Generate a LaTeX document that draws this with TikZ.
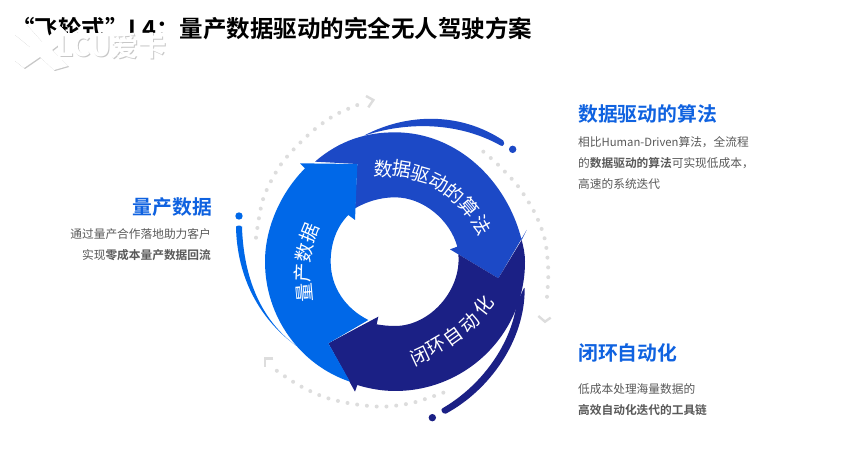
\documentclass[tikz,border=0pt]{standalone}
\usepackage{fontspec}
\setmainfont{Noto Sans CJK SC}
\newfontfamily\cjkb{Noto Sans CJK SC Bold}
\definecolor{cblue}{HTML}{0068E8}
\definecolor{cdark}{HTML}{1C49C6}
\definecolor{cnavy}{HTML}{1B2085}
\definecolor{cdot}{HTML}{DDDDDD}
\definecolor{ctxt}{HTML}{595959}
\definecolor{chead}{HTML}{0F62E0}
\tikzset{
 dots/.style={cdot,line width=4pt,line cap=round,dash pattern=on 0pt off 9.8pt},
 chev/.style={cdot,line width=2.4pt},
 ringtext/.style={text=white,font=\fontsize{19}{19}\selectfont,inner sep=0pt},
 headtext/.style={text=chead,font=\cjkb\fontsize{19.8}{20}\selectfont,inner sep=0pt},
 body/.style={text=ctxt,font=\fontsize{11.7}{20}\selectfont,inner sep=0pt},
 wmark/.style={inner sep=0pt,font=\cjkb\fontsize{28}{28}\selectfont},
}
\begin{document}
\begin{tikzpicture}[x=1pt,y=-1pt]
\useasboundingbox (0,0) rectangle (846,460);
\fill[white] (0,0) rectangle (846,460);
% title
\node[anchor=west,inner sep=0pt,font=\cjkb\fontsize{23.5}{24}\selectfont] (title) at (11,29) {“飞轮式”L4：量产数据驱动的完全无人驾驶方案};
% watermark
\fill[black!22] (15,35) -- (27,25) -- (43,43) -- (61,27) -- (71,37) -- (53,51) -- (69,67) -- (55,71) -- (41,58) -- (25,69) -- (15,61) -- (31,48) -- cycle;
\fill[white] (14,34) -- (26,24) -- (42,42) -- (60,26) -- (70,36) -- (52,50) -- (68,66) -- (54,70) -- (40,57) -- (24,68) -- (14,60) -- (30,47) -- cycle;
\fill[white] (58,33) rectangle (173,60);
\node[anchor=west,wmark,text=black!22] (wms) at (58,47) {LCU\hspace{-1pt}爱卡};
\node[anchor=west,wmark,text=white] (wm) at (57,46) {LCU\hspace{-1pt}爱卡};
\begin{scope}[shift={(220,90)},x=.33333pt,y={(0pt,-.33333pt)}]
% dotted arcs
\draw[dots] plot[smooth] coordinates {(108,443)(130,325)(185,220)(270,130)(345,75)(425,40)};
\draw[chev] (438,18)--(460,30)--(445,52);
\draw[dots] plot[smooth] coordinates {(790,185)(835,225)(895,290)(945,370)(975,450)(985,545)(980,632)};
\draw[chev] (955,678)--(975,695)--(992,683);
\draw[dots] plot[smooth] coordinates {(670,908)(580,938)(490,950)(400,942)(315,922)(235,885)(160,835)};
\draw[chev] (160,805)--(135,805)--(135,832);
% ring arrows
\fill[cdark] (285,215) .. controls (360,150) and (440,127) .. (525,127) .. controls (710,127) and (860,270) .. (905,450) -- (920,420) -- (835,565) -- (690,478) -- (712,470) .. controls (690,390) and (610,322) .. (525,322) .. controls (480,322) and (440,335) .. (405,355) -- (412,222) -- cycle;
\fill[cnavy] (475,680) -- (325,760) -- (405,905) -- (412,885) .. controls (450,897) and (490,903) .. (525,903) .. controls (740,903) and (915,730) .. (915,515) .. controls (915,490) and (910,470) .. (905,450) -- (835,565) -- (715,493) .. controls (725,600) and (630,708) .. (525,708) .. controls (505,708) and (488,706) .. (470,703) -- cycle;
\fill[cblue] (240,220) -- (412,222) -- (405,390) -- (385,375) .. controls (350,410) and (332,460) .. (332,515) .. controls (332,590) and (375,655) .. (445,690) -- (325,760) -- (390,875) .. controls (240,825) and (135,680) .. (135,515) .. controls (135,410) and (185,305) .. (255,235) -- cycle;
% swooshes
\fill[cblue,rounded corners=2pt] (48,415) .. controls (55,580) and (130,695) .. (232,770) .. controls (145,705) and (75,600) .. (66,415) -- (66,407) -- (48,407) -- cycle;
\fill[cblue] (57,378) circle (3.7pt);
\fill[cdark,rounded corners=2pt] (855,155) .. controls (720,65) and (560,70) .. (430,138) .. controls (560,95) and (715,95) .. (848,170) -- cycle;
\fill[cdark] (878,178) circle (3.7pt);
\fill[cnavy,rounded corners=2pt] (914,590) .. controls (915,750) and (810,900) .. (672,974) -- (662,958) .. controls (780,890) and (870,770) .. (890,640) -- cycle;
\fill[cnavy] (637,983) circle (3.7pt);
% ring labels, one glyph at a time along the ring
\foreach \ch/\px/\py/\rot [count=\i] in {数/492/238/-5,据/547/238/-9,驱/602/252/-16,动/657/277/-26,的/705/310/-38,算/748/352/-50,法/786/406/-60}
  \node[ringtext,rotate=\rot] (la\i) at (\px,\py) {\ch};
\foreach \ch/\px/\py/\rot [count=\i] in {闭/600/797/25,环/650/768/30,自/700/738/36,动/748/700/43,化/790/648/52}
  \node[ringtext,rotate=\rot] (lb\i) at (\px,\py) {\ch};
\foreach \ch/\px/\py/\rot [count=\i] in {量/255/608/95,产/247/548/88,数/252/488/78,据/268/428/68}
  \node[ringtext,rotate=\rot] (lc\i) at (\px,\py) {\ch};
\end{scope}
% side texts
\node[headtext,anchor=west] (h1) at (578,114) {数据驱动的算法};
\node[body,anchor=west] (b1a) at (578,142) {相比{\fontsize{11.3}{20}\selectfont Human-Driven}算法，全流程};
\node[body,anchor=west] (b1b) at (578,163) {的{\cjkb 数据驱动的算法}可实现低成本，};
\node[body,anchor=west] (b1c) at (578,184) {高速的系统迭代};
\node[headtext,anchor=east] (h2) at (212,207) {量产数据};
\node[body,anchor=east] (b2a) at (211,234) {通过量产合作落地助力客户};
\node[body,anchor=east] (b2b) at (211,255) {实现{\cjkb 零成本量产数据回流}};
\node[headtext,anchor=west] (h3) at (578,353) {闭环自动化};
\node[body,anchor=west] (b3a) at (578,389) {低成本处理海量数据的};
\node[body,anchor=west] (b3b) at (578,410) {\cjkb 高效自动化迭代的工具链};
\end{tikzpicture}
\end{document}
